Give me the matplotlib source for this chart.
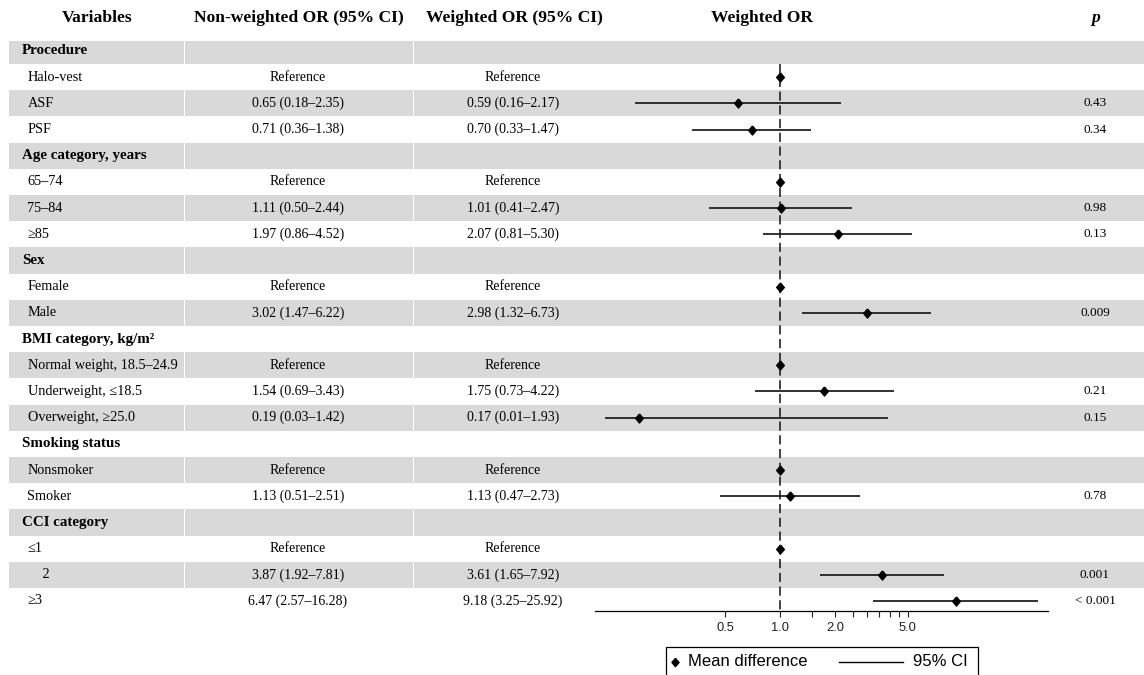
import matplotlib
matplotlib.use('Agg')
import matplotlib.pyplot as plt
from matplotlib.patches import Rectangle
from matplotlib.lines import Line2D
from matplotlib.ticker import FixedLocator, FixedFormatter, NullFormatter
import numpy as np

plt.rcParams['font.family'] = ['Liberation Serif', 'DejaVu Serif']

nan = np.nan

# ---- table content ----
labels = ['Procedure', 'Halo-vest', 'ASF', 'PSF',
          'Age category, years', '65\u201374', '75\u201384', '\u226585',
          'Sex', 'Female', 'Male',
          'BMI category, kg/m\u00b2', 'Normal weight, 18.5\u201324.9',
          'Underweight, \u226418.5', 'Overweight, \u226525.0',
          'Smoking status', 'Nonsmoker', 'Smoker',
          'CCI category', '\u22641', '    2', '\u22653']
is_group = [1, 0, 0, 0, 1, 0, 0, 0, 1, 0, 0, 1, 0, 0, 0, 1, 0, 0, 1, 0, 0, 0]
nonweighted = ['', 'Reference', '0.65 (0.18\u20132.35)', '0.71 (0.36\u20131.38)',
               '', 'Reference', '1.11 (0.50\u20132.44)', '1.97 (0.86\u20134.52)',
               '', 'Reference', '3.02 (1.47\u20136.22)',
               '', 'Reference', '1.54 (0.69\u20133.43)', '0.19 (0.03\u20131.42)',
               '', 'Reference', '1.13 (0.51\u20132.51)',
               '', 'Reference', '3.87 (1.92\u20137.81)', '6.47 (2.57\u201316.28)']
weighted = ['', 'Reference', '0.59 (0.16\u20132.17)', '0.70 (0.33\u20131.47)',
            '', 'Reference', '1.01 (0.41\u20132.47)', '2.07 (0.81\u20135.30)',
            '', 'Reference', '2.98 (1.32\u20136.73)',
            '', 'Reference', '1.75 (0.73\u20134.22)', '0.17 (0.01\u20131.93)',
            '', 'Reference', '1.13 (0.47\u20132.73)',
            '', 'Reference', '3.61 (1.65\u20137.92)', '9.18 (3.25\u201325.92)']
pvals = ['', '', '0.43', '0.34', '', '', '0.98', '0.13', '', '', '0.009',
         '', '', '0.21', '0.15', '', '', '0.78', '', '', '0.001', '< 0.001']

# ---- plotted weighted OR (as drawn) ----
or_est = [nan, 1, 0.59, 0.70, nan, 1, 1.01, 2.07, nan, 1, 2.98,
          nan, 1, 1.75, 0.17, nan, 1, 1.13, nan, 1, 3.61, 9.18]
or_lo = [nan, 1, 0.16, 0.33, nan, 1, 0.41, 0.81, nan, 1, 1.32,
         nan, 1, 0.73, 0.11, nan, 1, 0.47, nan, 1, 1.65, 3.25]
or_hi = [nan, 1, 2.17, 1.47, nan, 1, 2.47, 5.30, nan, 1, 6.73,
         nan, 1, 4.22, 3.89, nan, 1, 2.73, nan, 1, 7.92, 25.92]

major_ticks = [0.5, 1.0, 2.0, 5.0]
major_labels = ['0.5', '1.0', '2.0', '5.0']
minor_ticks = [1.5, 2.5, 3.0, 3.5, 4.0, 4.5]

# ---- layout (pixels) ----
W, H = 1144, 675
row0, row_h = 51.0, 26.19
band = '#d9d9d9'
n = len(labels)
rows = np.arange(n)
diamond = [(0, 1), (0.85, 0), (0, -1), (-0.85, 0), (0, 1)]

fig = plt.figure(figsize=(W / 100, H / 100), dpi=100)
tab = fig.add_axes([0, 0, 1, 1])
tab.set_xlim(0, W)
tab.set_ylim(H, 0)
tab.axis('off')

def ypix(i):
    return row0 + row_h * i

# shaded bands with thin white column gaps
segs = [(9, 183.5), (185, 412.5), (414, W)]
for i in rows:
    if i % 2 == 0:
        top = max(ypix(i) - row_h / 2, 41)
        bot = ypix(i) + row_h / 2
        for x0, x1 in segs:
            tab.add_patch(Rectangle((x0, top), x1 - x0, bot - top,
                                    facecolor=band, edgecolor='none', zorder=0))

# headers
hy = 18.5
hs = 12.6
tab.text(96.7, hy, 'Variables', ha='center', va='center', fontsize=hs, fontweight='bold')
tab.text(299, hy, 'Non-weighted OR (95% CI)', ha='center', va='center', fontsize=hs, fontweight='bold')
tab.text(514.5, hy, 'Weighted OR (95% CI)', ha='center', va='center', fontsize=hs, fontweight='bold')
tab.text(762, hy, 'Weighted OR', ha='center', va='center', fontsize=hs, fontweight='bold')
tab.text(1096, hy, 'p', ha='center', va='center', fontsize=hs, fontweight='bold', style='italic')

for i in rows:
    y = ypix(i)
    if is_group[i]:
        tab.text(22, y, labels[i], ha='left', va='center', fontsize=10.8, fontweight='bold')
    else:
        tab.text(27.5, y, labels[i], ha='left', va='center', fontsize=10.3)
    tab.text(298, y, nonweighted[i], ha='center', va='center', fontsize=10)
    tab.text(513, y, weighted[i], ha='center', va='center', fontsize=10)
    tab.text(1095, y, pvals[i], ha='center', va='center', fontsize=9.5)

# ---- forest plot ----
x_left, x_right, y_axis = 595, 1048, 611
ax = fig.add_axes([x_left / W, (H - y_axis) / H, (x_right - x_left) / W, y_axis / H])
ax.patch.set_alpha(0)
ax.set_xscale('log')
ax.set_xlim(0.097, 29.4)
ybot = (y_axis - row0) / row_h
ax.set_ylim(ybot, -row0 / row_h)
for s in ['top', 'left', 'right']:
    ax.spines[s].set_visible(False)
ax.spines['bottom'].set_linewidth(0.9)
ax.set_yticks([])
ax.xaxis.set_major_locator(FixedLocator(major_ticks))
ax.xaxis.set_major_formatter(FixedFormatter(major_labels))
ax.xaxis.set_minor_locator(FixedLocator(minor_ticks))
ax.xaxis.set_minor_formatter(NullFormatter())
ax.tick_params(axis='x', which='both', direction='out', length=4.3, width=0.8,
               pad=3.5, labelsize=9.3, colors='#222222')
for t in ax.get_xticklabels():
    t.set_family(['Liberation Sans', 'DejaVu Sans'])

ax.vlines(1.0, 0.5, ybot, colors='#111111', linewidth=1.1,
          linestyles=(0, (6, 3)), zorder=2)
ax.hlines(rows, or_lo, or_hi, colors='#1a1a1a', linewidth=1.25, zorder=3)
ax.plot(or_est, rows, linestyle='none', marker=diamond, color='black',
        markersize=6.5, zorder=4)

# ---- legend ----
ly = 662
tab.add_patch(Rectangle((666, 647), 312, 45, facecolor='white', edgecolor='black',
                        linewidth=0.9, zorder=5))
tab.plot([675], [ly], linestyle='none', marker=diamond, color='black',
         markersize=6, zorder=6)
tab.text(688, ly, 'Mean difference', ha='left', va='center', fontsize=12,
         family=['Liberation Sans', 'DejaVu Sans'], zorder=6)
tab.add_line(Line2D([839, 903], [ly, ly], color='black', linewidth=1.0, zorder=6))
tab.text(913, ly, '95% CI', ha='left', va='center', fontsize=12,
         family=['Liberation Sans', 'DejaVu Sans'], zorder=6)

fig.savefig('out.png', dpi=100)
